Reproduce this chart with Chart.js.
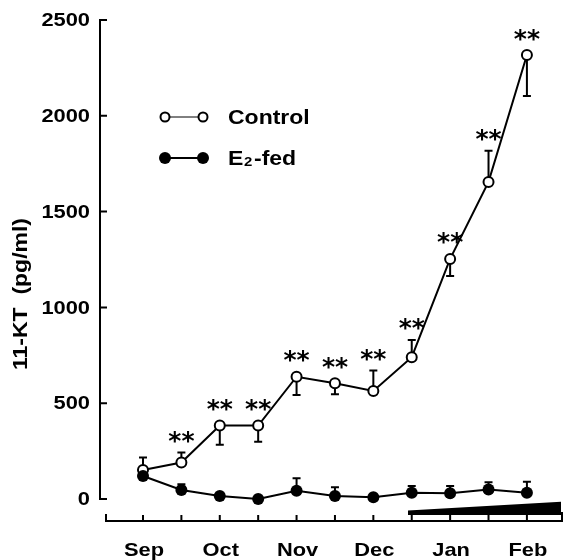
<!DOCTYPE html>
<html>
<head>
<meta charset="utf-8">
<script src="https://cdn.jsdelivr.net/npm/chart.js@4.4.1/dist/chart.umd.min.js"></script>
<style>
  html, body { margin: 0; padding: 0; background: #fff; }
</style>
</head>
<body>
<canvas id="ktChart" width="564" height="560"></canvas>
<script>
// half-month sampling points, Sep .. Feb
const samplePoints = [0, 1, 2, 3, 4, 5, 6, 7, 8, 9, 10];
const monthLabels = ["Sep", "Oct", "Nov", "Dec", "Jan", "Feb"];
const monthTicks = [0, 2, 4, 6, 8, 10];
const yTicks = [0, 500, 1000, 1500, 2000, 2500];

// 11-KT (pg/ml), control fish
const controlValues = [151, 190, 383, 383, 638, 604, 564, 740, 1253, 1655, 2317];
// error bar length: + drawn up, - drawn down
const controlErr = [65, 52, -100, -84, -95, -58, 106, 90, -89, 163, -214];
const controlSig = [0, 1, 1, 1, 1, 1, 1, 1, 1, 1, 1];

// 11-KT (pg/ml), E2-fed fish
const e2Values = [120, 47, 16, 0, 43, 16, 9, 33, 30, 50, 33];
const e2Err = [0, 30, 0, 0, 65, 45, 0, 35, 38, 37, 57];

// E2 dose wedge under the axis (dose rising from mid-Dec)
const doseX = [6.9, 10.89];
const doseTop = [-60, -14];
const doseBase = -84;

const FONT = '"Liberation Sans", Arial, sans-serif';
const STRETCH = 1.15;

function wideText(ctx, txt, x, y, align) {
  ctx.save();
  ctx.translate(x, y);
  ctx.scale(STRETCH, 1);
  ctx.textAlign = align;
  ctx.fillText(txt, 0, 0);
  ctx.restore();
}

// error bars go under the markers
const errorBars = {
  id: "errorBars",
  beforeDatasetsDraw(chart) {
    const ctx = chart.ctx, xs = chart.scales.x, ys = chart.scales.y;
    ctx.save();
    ctx.strokeStyle = "#000";
    ctx.lineWidth = 2;
    const draw = (vals, errs) => {
      vals.forEach((v, i) => {
        if (!errs[i]) return;
        const px = xs.getPixelForValue(samplePoints[i]);
        const p0 = ys.getPixelForValue(v);
        const p1 = ys.getPixelForValue(v + errs[i]);
        ctx.beginPath();
        ctx.moveTo(px, p0); ctx.lineTo(px, p1);
        ctx.moveTo(px - 4, p1); ctx.lineTo(px + 4, p1);
        ctx.stroke();
      });
    };
    draw(controlValues, controlErr);
    draw(e2Values, e2Err);
    ctx.restore();
  }
};

const decorations = {
  id: "decorations",
  afterDatasetsDraw(chart) {
    const ctx = chart.ctx, xs = chart.scales.x, ys = chart.scales.y;
    const area = chart.chartArea;
    ctx.save();
    ctx.fillStyle = "#000";
    ctx.strokeStyle = "#000";

    // significance stars
    ctx.font = 'bold 25px "DejaVu Sans", sans-serif';
    ctx.textBaseline = "middle";
    controlValues.forEach((v, i) => {
      if (!controlSig[i]) return;
      const px = xs.getPixelForValue(samplePoints[i]);
      let top = ys.getPixelForValue(v) - 5;
      if (controlErr[i] > 0) top = Math.min(top, ys.getPixelForValue(v + controlErr[i]));
      ctx.textAlign = "center";
      ctx.fillText("**", px, top - 10);
    });

    // y axis
    const y0 = ys.getPixelForValue(yTicks[0]);
    const yTop = ys.getPixelForValue(yTicks[yTicks.length - 1]);
    ctx.lineWidth = 2;
    ctx.beginPath();
    ctx.moveTo(area.left, y0); ctx.lineTo(area.left, yTop);
    yTicks.forEach(t => {
      const py = ys.getPixelForValue(t);
      ctx.moveTo(area.left - 1, py); ctx.lineTo(area.left + 7, py);
    });
    ctx.stroke();

    ctx.font = "bold 19px " + FONT;
    ctx.textBaseline = "middle";
    yTicks.forEach(t => {
      wideText(ctx, String(t), area.left - 10, ys.getPixelForValue(t) + 1, "right");
    });

    // x axis
    const xb = area.bottom;
    ctx.beginPath();
    ctx.moveTo(area.left + 6, xb); ctx.lineTo(area.right, xb);
    ctx.moveTo(area.left + 6, xb + 1); ctx.lineTo(area.left + 6, xb - 7);
    ctx.moveTo(area.right - 1, xb + 1); ctx.lineTo(area.right - 1, xb - 9);
    samplePoints.forEach(s => {
      const px = xs.getPixelForValue(s);
      ctx.moveTo(px, xb); ctx.lineTo(px, xb - 6);
    });
    ctx.stroke();

    ctx.font = "bold 19px " + FONT;
    ctx.textBaseline = "alphabetic";
    monthLabels.forEach((m, i) => {
      wideText(ctx, m, xs.getPixelForValue(monthTicks[i]) + 1, 556, "center");
    });

    // y title
    ctx.save();
    ctx.translate(21, 294);
    ctx.rotate(-Math.PI / 2);
    ctx.scale(STRETCH, 1);
    ctx.font = "bold 20px " + FONT;
    ctx.textAlign = "center";
    ctx.textBaseline = "middle";
    ctx.fillText("11-KT  (pg/ml)", 0, 0);
    ctx.restore();

    // legend
    ctx.lineWidth = 1;
    ctx.beginPath();
    ctx.moveTo(165, 117); ctx.lineTo(203, 117);
    ctx.stroke();
    ctx.lineWidth = 2;
    [165, 203].forEach(x => {
      ctx.beginPath();
      ctx.arc(x, 117, 4.5, 0, Math.PI * 2);
      ctx.fillStyle = "#fff"; ctx.fill();
      ctx.stroke();
    });
    ctx.fillStyle = "#000";
    ctx.beginPath();
    ctx.moveTo(165, 158); ctx.lineTo(203, 158);
    ctx.stroke();
    [165, 203].forEach(x => {
      ctx.beginPath();
      ctx.arc(x, 158, 6, 0, Math.PI * 2);
      ctx.fill();
    });
    ctx.font = "bold 20px " + FONT;
    ctx.textBaseline = "middle";
    wideText(ctx, "Control", 228, 118, "left");
    wideText(ctx, "E", 228, 159, "left");
    ctx.font = "bold 13px " + FONT;
    wideText(ctx, "2", 244, 162, "left");
    ctx.font = "bold 20px " + FONT;
    wideText(ctx, "-fed", 254, 159, "left");

    ctx.restore();
  }
};

new Chart(document.getElementById("ktChart"), {
  type: "line",
  data: {
    datasets: [
      {
        label: "E2-fed",
        data: samplePoints.map((s, i) => ({ x: s, y: e2Values[i] })),
        borderColor: "#000",
        borderWidth: 2,
        pointRadius: 6,
        pointBackgroundColor: "#000",
        pointBorderColor: "#000",
        pointBorderWidth: 0,
        tension: 0
      },
      {
        label: "Control",
        data: samplePoints.map((s, i) => ({ x: s, y: controlValues[i] })),
        borderColor: "#000",
        borderWidth: 2,
        pointRadius: 5,
        pointBackgroundColor: "#fff",
        pointBorderColor: "#000",
        pointBorderWidth: 2,
        tension: 0
      },
      {
        label: "dose",
        data: doseX.map((x, i) => ({ x: x, y: doseTop[i] })),
        borderWidth: 0,
        pointRadius: 0,
        backgroundColor: "#000",
        fill: { value: doseBase }
      }
    ]
  },
  options: {
    responsive: false,
    animation: false,
    layout: { autoPadding: false, padding: { left: 100, right: 1, top: 20, bottom: 39 } },
    plugins: { legend: { display: false }, tooltip: { enabled: false } },
    scales: {
      x: { type: "linear", display: false, min: -1.12, max: 10.94 },
      y: { type: "linear", display: false, min: -115, max: 2500 }
    }
  },
  plugins: [errorBars, decorations]
});
</script>
</body>
</html>
